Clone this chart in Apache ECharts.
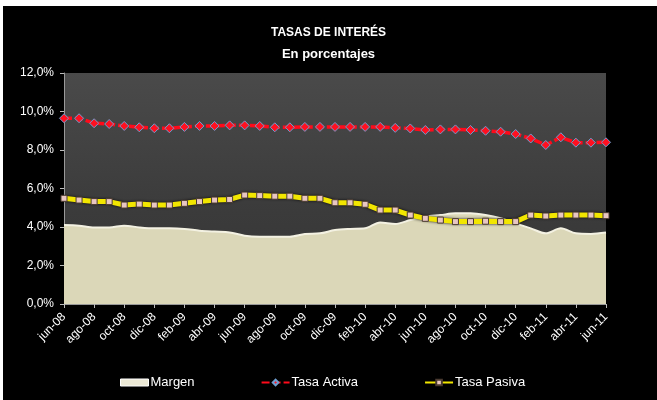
<!DOCTYPE html>
<html>
<head>
<meta charset="utf-8">
<script src="https://cdn.jsdelivr.net/npm/echarts@6/dist/echarts.min.js"></script>
<style>
  html, body { margin: 0; padding: 0; background: #fff; }
  #main { width: 657px; height: 400px; }
</style>
</head>
<body>
<div id="main"></div>
<script>
// meses (jun-08 .. jun-11)
var meses = ['jun-08','jul-08','ago-08','sep-08','oct-08','nov-08','dic-08','ene-09','feb-09','mar-09','abr-09','may-09',
  'jun-09','jul-09','ago-09','sep-09','oct-09','nov-09','dic-09','ene-10','feb-10','mar-10','abr-10','may-10',
  'jun-10','jul-10','ago-10','sep-10','oct-10','nov-10','dic-10','ene-11','feb-11','mar-11','abr-11','may-11','jun-11'];

// valores en %
var tasaActiva = [9.65,9.65,9.39,9.35,9.25,9.18,9.13,9.13,9.20,9.25,9.25,9.28,
  9.28,9.25,9.18,9.18,9.20,9.20,9.20,9.20,9.20,9.20,9.15,9.12,
  9.04,9.07,9.07,9.04,9.00,8.95,8.83,8.60,8.26,8.66,8.38,8.38,8.40];

var tasaPasiva = [5.49,5.40,5.32,5.32,5.14,5.19,5.14,5.14,5.23,5.32,5.40,5.43,
  5.66,5.63,5.60,5.60,5.49,5.49,5.26,5.26,5.18,4.88,4.88,4.62,
  4.45,4.36,4.28,4.28,4.30,4.28,4.28,4.62,4.57,4.62,4.62,4.62,4.59];

var margen = [4.10,4.07,3.98,3.98,4.07,3.98,3.93,3.93,3.90,3.81,3.76,3.72,
  3.55,3.50,3.50,3.50,3.64,3.67,3.84,3.90,3.93,4.24,4.16,4.36,
  4.54,4.62,4.71,4.71,4.62,4.45,4.19,3.93,3.67,3.93,3.67,3.64,3.71];

var yTicks = [0, 2, 4, 6, 8, 10, 12];

var font = '"Liberation Sans", Arial, sans-serif';

var chart = echarts.init(document.getElementById('main'));

chart.setOption({
  backgroundColor: '#000',
  animation: false,
  textStyle: { fontFamily: font },
  graphic: [
    { type: 'rect', left: 0, top: 0, shape: { width: 657, height: 6 }, style: { fill: '#fff' } },
    { type: 'rect', left: 0, top: 0, shape: { width: 3, height: 400 }, style: { fill: '#fff' } }
  ],
  title: {
    text: 'TASAS DE INTERÉS',
    subtext: 'En porcentajes',
    left: 'center',
    top: 22,
    itemGap: 9,
    textStyle: { color: '#fff', fontSize: 12, fontWeight: 'bold', fontFamily: font },
    subtextStyle: { color: '#fff', fontSize: 13, fontWeight: 'bold', fontFamily: font }
  },
  legend: {
    left: 115,
    top: 371,
    itemWidth: 28,
    itemHeight: 7,
    itemGap: 66,
    textStyle: { color: '#fff', fontSize: 13, fontFamily: font, padding: [0, 0, 0, -3] },
    data: [
      { name: 'Margen', icon: 'rect', itemStyle: { color: '#ece9d6', borderColor: '#fff', borderWidth: 1 } },
      { name: 'Tasa Activa' },
      { name: 'Tasa Pasiva' }
    ]
  },
  grid: {
    left: 64, right: 51, top: 73, bottom: 96,
    show: true,
    borderWidth: 0,
    backgroundColor: new echarts.graphic.LinearGradient(0, 0, 0, 1, [
      { offset: 0, color: '#4a4a4a' },
      { offset: 0.6, color: '#3b3b3b' },
      { offset: 1, color: '#353535' }
    ])
  },
  xAxis: {
    type: 'category',
    data: meses,
    boundaryGap: false,
    axisLine: { lineStyle: { color: '#999', width: 1 } },
    axisTick: { interval: 1, length: 4, lineStyle: { color: '#bbb' } },
    axisLabel: { interval: 1, rotate: 45, color: '#fff', fontSize: 12, margin: 11 },
    splitLine: { show: false }
  },
  yAxis: {
    type: 'value',
    min: yTicks[0],
    max: yTicks[yTicks.length - 1],
    interval: 2,
    axisLine: { show: true, lineStyle: { color: '#999' } },
    axisTick: { show: true, length: 4, lineStyle: { color: '#bbb' } },
    splitLine: { show: false },
    axisLabel: {
      color: '#fff', fontSize: 12, margin: 10,
      formatter: function (v) { return v.toFixed(1).replace('.', ',') + '%'; }
    }
  },
  series: [
    {
      name: 'Margen',
      type: 'line',
      data: margen,
      smooth: 0.3,
      showSymbol: false,
      symbol: 'none',
      lineStyle: { color: '#f3f1e2', width: 2 },
      itemStyle: { color: '#ece9d6' },
      areaStyle: { color: '#dbd7b8', opacity: 1 },
      z: 1
    },
    {
      name: 'Tasa Pasiva',
      type: 'line',
      data: tasaPasiva,
      symbol: 'rect',
      symbolSize: 6,
      lineStyle: { color: '#f2e600', width: 5, shadowColor: 'rgba(0,0,0,0.9)', shadowBlur: 3 },
      itemStyle: { color: '#e8c6c2', borderColor: '#4a3a30', borderWidth: 1 },
      z: 3
    },
    {
      name: 'Tasa Activa',
      type: 'line',
      data: tasaActiva,
      symbol: 'diamond',
      symbolSize: 9,
      lineStyle: { color: '#ff0a1a', width: 3.5, type: [8, 3] },
      itemStyle: { color: '#ff1020', borderColor: '#6f9fd0', borderWidth: 1 },
      z: 4
    }
  ]
});
</script>
</body>
</html>
